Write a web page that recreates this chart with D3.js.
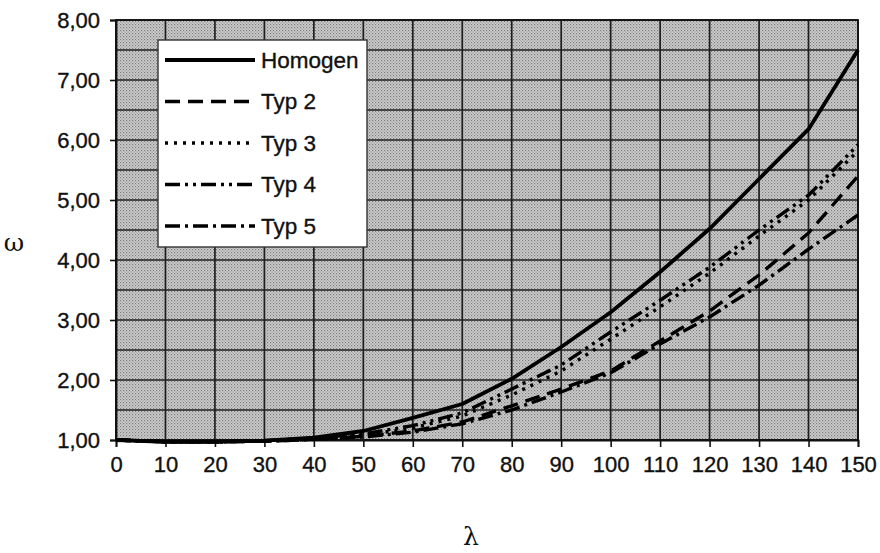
<!DOCTYPE html>
<html>
<head>
<meta charset="utf-8">
<script src="https://cdn.jsdelivr.net/npm/d3@7"></script>
<style>
  html, body { margin: 0; padding: 0; background: #fff; }
  svg { display: block; }
</style>
</head>
<body>
<svg id="chart" width="880" height="553"></svg>
<script>
// λ values (slenderness) at which ω was evaluated
const lambdas = [0, 10, 20, 30, 40, 50, 60, 70, 80, 90, 100, 110, 120, 130, 140, 150];

// ω per cross-section type
const homogen = [1.00, 0.97, 0.97, 0.99, 1.04, 1.15, 1.37, 1.60, 2.02, 2.55, 3.13, 3.80, 4.52, 5.35, 6.18, 7.50];
const typ2    = [1.00, 0.97, 0.97, 0.98, 1.01, 1.06, 1.15, 1.30, 1.57, 1.85, 2.15, 2.65, 3.15, 3.75, 4.45, 5.40];
const typ3    = [1.00, 0.97, 0.97, 0.98, 1.02, 1.08, 1.20, 1.40, 1.75, 2.15, 2.68, 3.22, 3.78, 4.40, 5.00, 5.82];
const typ4    = [1.00, 0.97, 0.97, 0.99, 1.03, 1.10, 1.24, 1.45, 1.85, 2.25, 2.80, 3.33, 3.88, 4.50, 5.08, 5.92];
const typ5    = [1.00, 0.97, 0.97, 0.98, 1.01, 1.05, 1.13, 1.27, 1.50, 1.80, 2.12, 2.60, 3.05, 3.58, 4.18, 4.75];

const seriesNames = ["Homogen", "Typ 2", "Typ 3", "Typ 4", "Typ 5"];
const seriesValues = [homogen, typ2, typ3, typ4, typ5];

// axis ticks
const xTicks = [0, 10, 20, 30, 40, 50, 60, 70, 80, 90, 100, 110, 120, 130, 140, 150];
const yTicks = [1, 2, 3, 4, 5, 6, 7, 8];
const yGrid  = [1, 1.5, 2, 2.5, 3, 3.5, 4, 4.5, 5, 5.5, 6, 6.5, 7, 7.5, 8];

// line styles per series
const dashes = [null, "15,8", "3,6", "15,5,3,5,3,5", "15,5,3,5"];

const svg = d3.select("#chart");
const pLeft = 116, pRight = 858, pTop = 20, pBottom = 440;
const sans = "Liberation Sans, Arial, sans-serif";
const serif = "DejaVu Serif, serif";

const x = d3.scaleLinear().domain([0, 150]).range([pLeft, pRight]);
const y = d3.scaleLinear().domain([1, 8]).range([pBottom, pTop]);

// dotted fill for the plot area
const defs = svg.append("defs");
const pat = defs.append("pattern")
  .attr("id", "dots").attr("patternUnits", "userSpaceOnUse")
  .attr("width", 3).attr("height", 3);
pat.append("rect").attr("width", 3).attr("height", 3).attr("fill", "#cdcdcd");
pat.append("rect").attr("x", 0).attr("y", 0).attr("width", 1.2).attr("height", 1.2).attr("fill", "#7c7c7c");
pat.append("rect").attr("x", 1.5).attr("y", 1.5).attr("width", 1.2).attr("height", 1.2).attr("fill", "#959595");

const plot = svg.append("g");
plot.append("rect")
  .attr("x", pLeft).attr("y", pTop)
  .attr("width", pRight - pLeft).attr("height", pBottom - pTop)
  .attr("fill", "url(#dots)");

// grid
plot.selectAll("line.hgrid").data(yGrid).join("line")
  .attr("class", "hgrid")
  .attr("x1", pLeft).attr("x2", pRight)
  .attr("y1", d => y(d)).attr("y2", d => y(d))
  .attr("stroke", "#1e1e1e").attr("stroke-width", 1.7);
plot.selectAll("line.vgrid").data(xTicks).join("line")
  .attr("class", "vgrid")
  .attr("x1", d => x(d)).attr("x2", d => x(d))
  .attr("y1", pTop).attr("y2", pBottom)
  .attr("stroke", "#1e1e1e").attr("stroke-width", 1.7);

// axes
const fmt = d => d.toFixed(2).replace(".", ",");
const yAxis = svg.append("g")
  .attr("transform", `translate(${pLeft},0)`)
  .call(d3.axisLeft(y).tickValues(yTicks).tickFormat(fmt).tickSize(6).tickPadding(10));
const xAxis = svg.append("g")
  .attr("transform", `translate(0,${pBottom})`)
  .call(d3.axisBottom(x).tickValues(xTicks).tickSize(7).tickPadding(9));
[xAxis, yAxis].forEach(a => {
  a.selectAll("path.domain").attr("stroke", "#111").attr("stroke-width", 1.8);
  a.selectAll(".tick line").attr("stroke", "#111").attr("stroke-width", 1.6);
  a.selectAll("text")
    .attr("font-family", sans)
    .attr("font-size", 22).attr("fill", "#111")
    .attr("stroke", "#111").attr("stroke-width", 0.35);
});
yAxis.selectAll("text").attr("dy", "0.35em");
xAxis.selectAll("text").attr("dy", "0.71em");

// frame
svg.append("rect")
  .attr("x", pLeft).attr("y", pTop)
  .attr("width", pRight - pLeft).attr("height", pBottom - pTop)
  .attr("fill", "none").attr("stroke", "#111").attr("stroke-width", 1.8);

// curves
const line = d3.line().x((d, i) => x(lambdas[i])).y(d => y(d));
const curves = svg.append("g");
seriesValues.forEach((vals, k) => {
  curves.append("path")
    .datum(vals)
    .attr("d", line)
    .attr("fill", "none")
    .attr("stroke", "#000")
    .attr("stroke-width", k === 0 ? 3.8 : 3.4)
    .attr("stroke-dasharray", dashes[k])
    .attr("stroke-linejoin", "round");
});

// axis titles
svg.append("text")
  .attr("x", 14).attr("y", 251)
  .attr("font-family", serif).attr("font-size", 25)
  .attr("fill", "#111").attr("text-anchor", "middle")
  .text("ω");
svg.append("text")
  .attr("x", 471).attr("y", 545)
  .attr("font-family", serif).attr("font-size", 25)
  .attr("fill", "#111").attr("text-anchor", "middle")
  .text("λ");

// legend
const lg = svg.append("g");
lg.append("rect")
  .attr("x", 158).attr("y", 40).attr("width", 209).attr("height", 207)
  .attr("fill", "#fff").attr("stroke", "#333").attr("stroke-width", 1.4);
seriesNames.forEach((name, k) => {
  const cy = 60 + k * 41.5;
  lg.append("line")
    .attr("x1", 165).attr("x2", 255).attr("y1", cy).attr("y2", cy)
    .attr("stroke", "#000").attr("stroke-width", k === 0 ? 3.8 : 3.4)
    .attr("stroke-dasharray", dashes[k]);
  lg.append("text")
    .attr("x", 261).attr("y", cy).attr("dy", "0.35em")
    .attr("font-family", sans)
    .attr("font-size", 22.5).attr("fill", "#111")
    .attr("stroke", "#111").attr("stroke-width", 0.35)
    .text(name);
});
</script>
</body>
</html>
